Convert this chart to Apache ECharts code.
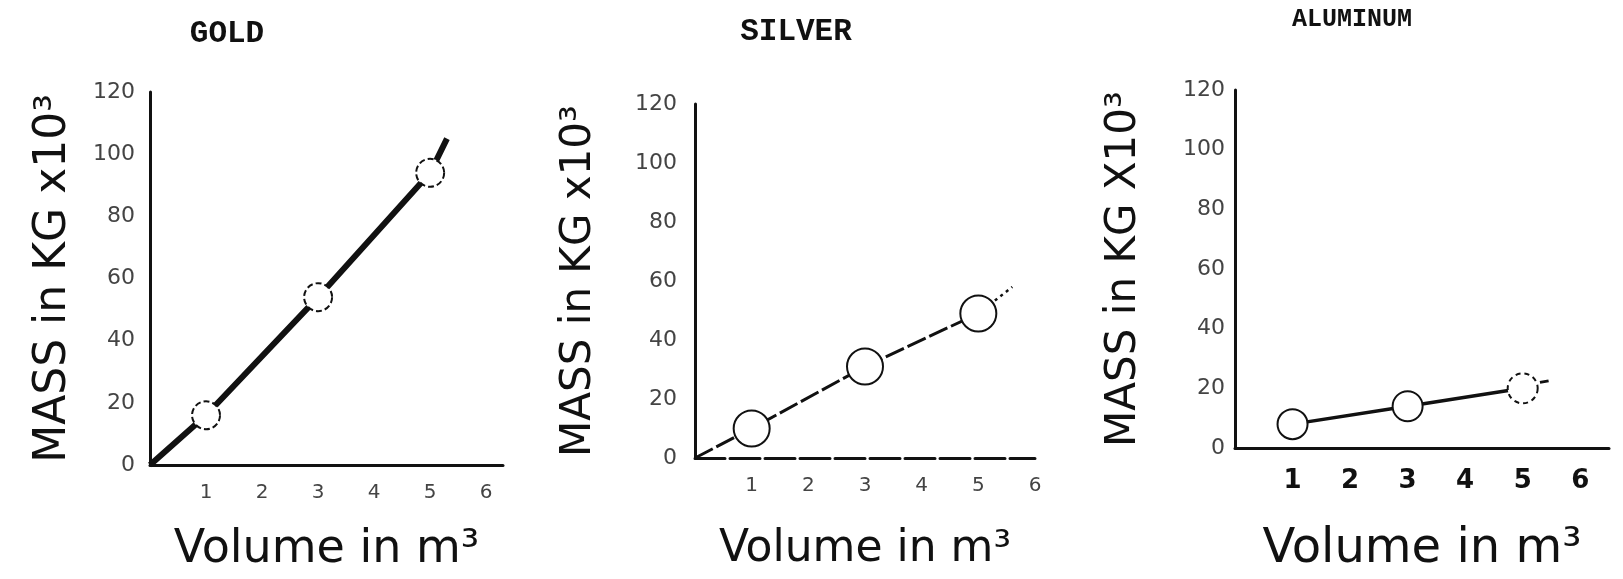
<!DOCTYPE html>
<html>
<head>
<meta charset="utf-8">
<script src="https://cdn.jsdelivr.net/npm/echarts@6/dist/echarts.min.js"></script>
<style>html,body{margin:0;padding:0;background:#fff;}#c{width:1623px;height:579px;}</style>
</head>
<body>
<div id="c"></div>
<script>
// ---- data ----
const titles = ['GOLD', 'SILVER', 'ALUMINUM'];
const volumes = [1, 3, 5];
const goldMass = [16, 54, 94];
const silverMass = [10, 31, 49];
const aluminumMass = [8, 14, 20];
// hand-drawn line ends (start / extension end)
const goldLineStart = [0, 0];
const goldLineEnd = [5.3, 105];
const silverLineStart = [0, 0];
const silverLineEnd = [5.6, 58];
const aluminumDash = [[5.3, 22], [5.45, 22.5]];
const yTicks = [0, 20, 40, 60, 80, 100, 120];
const xTicks = [1, 2, 3, 4, 5, 6];
const yNames = ['MASS in KG x10³', 'MASS in KG x10³', 'MASS in KG X10³'];
const xName = 'Volume in m³';

const ink = '#111';
const hand = 'DejaVu Sans';

function pts(vals) { return volumes.map((v, i) => [v, vals[i]]); }
function noSym(p) { return { value: p, symbol: 'none' }; }

const grids = [
  { left: 150, top: 92, width: 353, height: 373 },
  { left: 695, top: 104, width: 340, height: 354 },
  { left: 1235, top: 90, width: 374, height: 367 }
];
const xMax = [6.3, 6, 6.5];
const xNameGap = [62, 70, 78];
const xNameSize = [46, 44, 48];
const yNameGap = [74, 95, 90];
const yNameSize = [44, 42, 42];
const yLabelMargin = [15, 18, 10];

const xAxis = grids.map((g, i) => ({
  gridIndex: i, type: 'value', min: 0, max: xMax[i], interval: 1,
  name: xName, nameLocation: 'middle', nameGap: xNameGap[i],
  nameTextStyle: { fontFamily: hand, fontSize: xNameSize[i], color: ink },
  axisLine: { show: true, lineStyle: { color: ink, width: 3, type: i === 1 ? [30, 5] : 'solid' } },
  axisTick: { show: false }, splitLine: { show: false },
  axisLabel: {
    color: i === 2 ? ink : '#444', fontFamily: hand, fontSize: i === 2 ? 26 : 20,
    fontWeight: i === 2 ? 'bold' : 'normal', margin: i === 2 ? 20 : 18,
    formatter: v => (xTicks.indexOf(v) >= 0 ? String(v) : '')
  }
}));
const yAxis = grids.map((g, i) => ({
  gridIndex: i, type: 'value', min: 0, max: 120, interval: 20,
  name: yNames[i], nameLocation: 'middle', nameGap: yNameGap[i],
  nameTextStyle: { fontFamily: hand, fontSize: yNameSize[i], color: ink },
  axisLine: { show: true, lineStyle: { color: ink, width: 3 } },
  axisTick: { show: false }, splitLine: { show: false },
  axisLabel: {
    color: '#444', fontFamily: hand, fontSize: 22, margin: yLabelMargin[i],
    formatter: v => (yTicks.indexOf(v) >= 0 ? String(v) : '')
  }
}));

const series = [
  {
    type: 'line', xAxisIndex: 0, yAxisIndex: 0, symbol: 'emptyCircle', symbolSize: 28,
    lineStyle: { color: ink, width: 6 },
    itemStyle: { color: ink, borderColor: ink, borderWidth: 2, borderType: [6, 3] },
    z: 3,
    data: [noSym(goldLineStart)].concat(pts(goldMass)).concat([noSym(goldLineEnd)])
  },
  {
    type: 'line', xAxisIndex: 1, yAxisIndex: 1, symbol: 'emptyCircle', symbolSize: 36,
    lineStyle: { color: ink, width: 3, type: [20, 4] },
    itemStyle: { color: ink, borderColor: ink, borderWidth: 3 },
    z: 3,
    data: [noSym(silverLineStart)].concat(pts(silverMass))
  },
  {
    type: 'line', xAxisIndex: 1, yAxisIndex: 1, symbol: 'none',
    lineStyle: { color: ink, width: 2.5, type: [3, 4] }, z: 2,
    data: [[volumes[2], silverMass[2]], silverLineEnd]
  },
  {
    type: 'line', xAxisIndex: 2, yAxisIndex: 2, symbol: 'emptyCircle', symbolSize: 30,
    lineStyle: { color: ink, width: 3.5 },
    itemStyle: { color: ink, borderColor: ink, borderWidth: 3 },
    z: 3,
    data: pts(aluminumMass).map((p, i) => i === 2 ? { value: p, itemStyle: { borderType: [5, 4], borderWidth: 2.5 } } : p)
  },
  {
    type: 'line', xAxisIndex: 2, yAxisIndex: 2, symbol: 'none',
    lineStyle: { color: ink, width: 3 }, z: 2,
    data: aluminumDash
  }
];

const title = [
  { text: titles[0], left: 222, top: 14, textAlign: 'center' },
  { text: titles[1], left: 791, top: 12, textAlign: 'center' },
  { text: titles[2], left: 1347, top: 2, textAlign: 'center' }
].map((t, i) => Object.assign(t, {
  textStyle: { fontFamily: 'Liberation Mono', fontWeight: 'bold', fontSize: i === 2 ? 25 : 31, color: ink }
}));

const chart = echarts.init(document.getElementById('c'), null, { renderer: 'canvas' });
chart.setOption({
  backgroundColor: '#fff',
  animation: false,
  title: title,
  grid: grids,
  xAxis: xAxis,
  yAxis: yAxis,
  series: series
});
</script>
</body>
</html>
